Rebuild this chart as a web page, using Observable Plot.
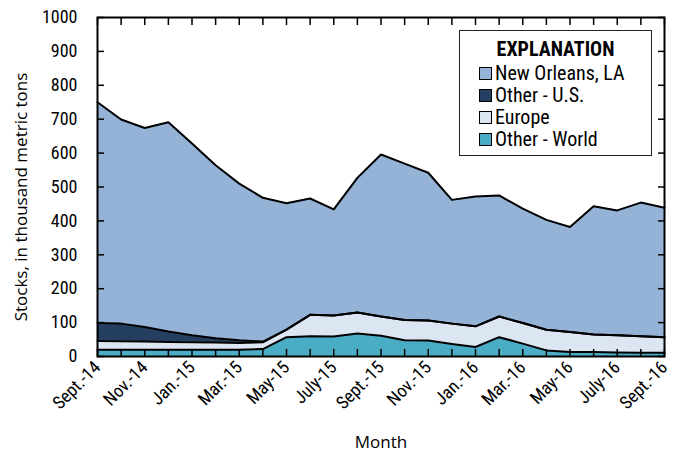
<!DOCTYPE html>
<html>
<head>
<meta charset="utf-8">
<script src="https://cdn.jsdelivr.net/npm/d3@7"></script>
<script src="https://cdn.jsdelivr.net/npm/@observablehq/plot@0.6"></script>
<style>
  html, body { margin: 0; padding: 0; background: #fff; }
  #wrap { position: relative; width: 683px; height: 452px; font-family: "Roboto Condensed", sans-serif; }
  #legend { position: absolute; left: 459px; top: 30px; width: 191px; height: 124px; border: 1px solid #222; background: #fff; box-sizing: content-box; }
  #legend .title { font-weight: bold; font-size: 20px; text-align: center; margin-top: 6px; margin-bottom: 1px; line-height: 24px; }
  #legend .row { display: flex; align-items: center; font-size: 20px; height: 22px; padding-left: 19px; }
  #legend .sw { width: 11px; height: 11px; border: 1.5px solid #000; margin-right: 3px; }
</style>
</head>
<body>
<div id="wrap"></div>
<script>
const months = ["Sept.-14","Oct.-14","Nov.-14","Dec.-14","Jan.-15","Feb.-15","Mar.-15","Apr.-15","May-15","June-15","July-15","Aug.-15","Sept.-15","Oct.-15","Nov.-15","Dec.-15","Jan.-16","Feb.-16","Mar.-16","Apr.-16","May-16","June-16","July-16","Aug.-16","Sept.-16"];
const seriesNames = ["Other - World", "Europe", "Other - U.S.", "New Orleans, LA"];
const seriesColors = ["#4bacc6", "#dce6f2", "#243f60", "#95b3d7"];
const legendOrder = ["New Orleans, LA", "Other - U.S.", "Europe", "Other - World"];
const otherWorld = [20,20,20,20,20,20,20,22,57,60,59,68,61,48,47,37,28,57,38,18,13,13,12,11,11];
const europe     = [26,25,24,23,22,21,20,20,22,63,62,62,57,60,59,60,61,61,61,61,59,52,51,49,46];
const otherUS    = [53,52,43,31,21,13,8,2,0,0,0,0,0,0,0,0,0,0,0,0,0,0,0,0,0];
const newOrleans = [651,602,587,617,565,510,462,424,373,343,313,397,478,461,436,365,383,357,337,324,310,378,368,394,382];
const yTicks = [0,100,200,300,400,500,600,700,800,900,1000];
const xLabelIdx = [0,2,4,6,8,10,12,14,16,18,20,22,24];
const yTitle = "Stocks, in thousand metric tons";
const xTitle = "Month";

const valuesBySeries = {"Other - World": otherWorld, "Europe": europe, "Other - U.S.": otherUS, "New Orleans, LA": newOrleans};
const data = seriesNames.flatMap(s => valuesBySeries[s].map((v, i) => ({i, value: v, series: s})));
const allIdx = months.map((_, i) => i);

const chart = Plot.plot({
  width: 683, height: 452,
  marginLeft: 97, marginRight: 19, marginTop: 17, marginBottom: 96,
  style: {fontFamily: "'Roboto Condensed', sans-serif", fontSize: "18px", color: "#000", background: "#fff"},
  x: {domain: [0, 24]},
  y: {domain: [0, 1000]},
  color: {domain: seriesNames, range: seriesColors},
  marks: [
    Plot.areaY(data, {x: "i", y: "value", fill: "series", order: seriesNames}),
    Plot.lineY(data, Plot.stackY2({x: "i", y: "value", z: "series", order: seriesNames, stroke: "#000", strokeWidth: 2})),
    Plot.frame({stroke: "#000", strokeWidth: 2}),
    Plot.axisY({anchor: "left", ticks: yTicks, tickSize: -7, tickPadding: 27, strokeWidth: 1.5, tickFormat: d => String(d), label: null}),
    Plot.axisY({anchor: "right", ticks: yTicks, tickSize: -7, strokeWidth: 1.5, tickFormat: () => "", label: null}),
    Plot.axisX({anchor: "bottom", ticks: allIdx, tickSize: -7, strokeWidth: 1.5, tickFormat: () => "", label: null}),
    Plot.axisX({anchor: "top", ticks: allIdx, tickSize: -7, strokeWidth: 1.5, tickFormat: () => "", label: null}),
    Plot.axisX({anchor: "bottom", ticks: xLabelIdx, tickSize: 0, tickPadding: 8, tickRotate: -45, tickFormat: i => months[i], label: null}),
    Plot.text([yTitle], {text: d => d, frameAnchor: "left", textAnchor: "middle", lineAnchor: "middle", rotate: -90, dx: -76, dy: 10, fontFamily: "'Open Sans', sans-serif", fontSize: 17, fill: "#000"}),
    Plot.text([xTitle], {text: d => d, frameAnchor: "bottom", textAnchor: "middle", lineAnchor: "middle", dy: 86, fontFamily: "'Open Sans', sans-serif", fontSize: 17, fill: "#000"})
  ]
});
const wrap = document.getElementById("wrap");
wrap.appendChild(chart);

const legend = document.createElement("div");
legend.id = "legend";
legend.innerHTML = `<div class="title">EXPLANATION</div>` + legendOrder.map(s =>
  `<div class="row"><span class="sw" style="background:${seriesColors[seriesNames.indexOf(s)]}"></span>${s}</div>`).join("");
wrap.appendChild(legend);
</script>
</body>
</html>
